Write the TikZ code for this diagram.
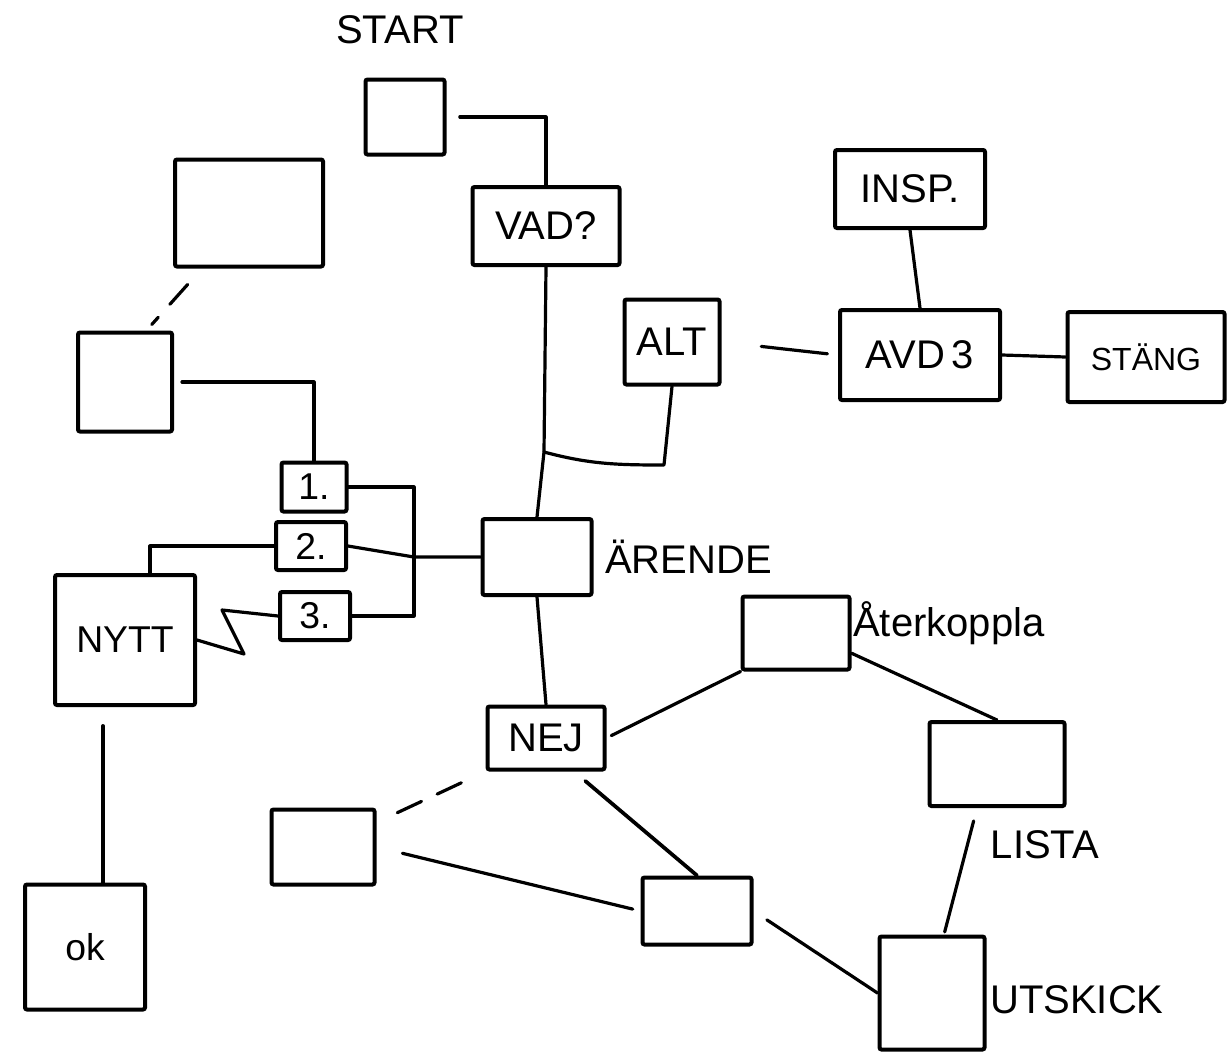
\documentclass[tikz,border=0pt]{standalone}
\usepackage{fontspec}
\setmainfont{Liberation Sans}
\usetikzlibrary{calc}
\begin{document}
\begin{tikzpicture}[x=0.75pt,y=-0.75pt,
  box/.style={draw, line width=3pt, inner sep=0pt, rounded corners=1.5pt,
    font=\fontsize{30}{32}\selectfont},
  sz/.style 2 args={minimum width=#1*0.75pt, minimum height=#2*0.75pt},
  lbl/.style={inner sep=0pt, font=\fontsize{30}{32}\selectfont},
  conn/.style={line width=2.4pt, line cap=round, line join=round},
  broken/.style={conn, dash pattern=on 20pt off 13pt}]
\useasboundingbox[fill=white] (0,0) rectangle (1232,1053);

% labels
\node[lbl] (tstart) at (400,30) {START};

% boxes
\node[box, sz={79}{75}] (startbox) at (405,117) {};
\node[box, sz={147}{78}] (vad) at (546,226) {VAD?};
\node[box, sz={148}{107}] (big) at (249,213) {};
\node[box, sz={94}{99}] (midl) at (125,382) {};
\node[box, sz={65}{49}, font=\fontsize{28}{30}\selectfont] (one) at (314,487) {1.};
\node[box, sz={70}{48}, font=\fontsize{28}{30}\selectfont] (two) at (311,546) {2.};
\node[box, sz={70}{48}, font=\fontsize{28}{30}\selectfont] (three) at (315,616) {3.};
\node[box, sz={140}{130}, font=\fontsize{28}{30}\selectfont] (nytt) at (125,640) {NYTT};
\node[box, sz={120}{125}, font=\fontsize{28}{30}\selectfont] (ok) at (85,947) {ok};
\node[box, sz={109}{76}] (arende) at (537,557) {};
\node[box, sz={95}{85}] (alt) at (672,342) {ALT};
\node[box, sz={160}{90}] (avd) at (920,355) {AVD\,3};
\node[box, sz={150}{78}] (insp) at (910,189) {INSP.};
\node[box, sz={157}{90}, font=\fontsize{24}{26}\selectfont] (stang) at (1146,357) {STÄNG};
\node[box, sz={117}{63}] (nej) at (546,738) {NEJ};
\node[box, sz={107}{73}] (aterk) at (796,633) {};
\node[box, sz={135}{84}] (lista) at (997,764) {};
\node[box, sz={105}{113}] (utskick) at (932,993) {};
\node[box, sz={103}{75}] (bl) at (323,847) {};
\node[box, sz={109}{67}] (bc) at (697,911) {};

% side labels
\node[lbl, anchor=west] (tarende) at (605,557) {ÄRENDE};
\node[lbl, anchor=west] (taterk) at (853,623) {Återkoppla};
\node[lbl] (tlista) at (1045,845) {LISTA};
\node[lbl, anchor=west] (tutskick) at (990,1000) {UTSKICK};

% helper coordinates
\coordinate (br) at (544,452);
\coordinate (altc) at (664,465);
\coordinate (fork) at (414,557);

% connectors
\draw[conn, shorten <=10pt] (startbox.east) -| (vad.north);
\draw[conn] (vad.south) -- (br) -- (arende.north);
\draw[conn] (br) to[out=-15,in=180] (altc) -- (alt.south);
\draw[broken, shorten <=6pt, shorten >=2pt] ($(big.south west)+(20,10)$) -- ($(midl.north east)+(-24,-4)$);
\draw[conn, shorten <=6pt] (midl.east) -| (one.north);
\draw[conn] (one.east) -| (fork) |- (three.east);
\draw[conn] (two.east) -- (fork) -- (arende.west);
\draw[conn] (two.west) -| ($(nytt.north)+(25,0)$);
\draw[conn] (three.west) -- ++(-56,-6) -- ++(22,44) -- (nytt.east);
\draw[conn, shorten <=14pt] ($(nytt.south)+(-22,0)$) -- ($(ok.north)+(18,0)$);
\draw[conn, shorten <=30pt, shorten >=8pt] (alt.east) -- (avd.west);
\draw[conn] (insp.south) -- (avd.north);
\draw[conn] (avd.east) -- (stang.west);
\draw[conn] (arende.south) -- (nej.north);
\draw[conn, shorten <=4pt] (nej.east) -- (aterk.south west);
\draw[conn] (aterk.-20) -- (lista.north);
\draw[conn, shorten <=10pt, shorten >=2pt] ($(lista.south)+(-20,0)$) -- ($(utskick.north)+(12,0)$);
\draw[broken, shorten <=20pt, shorten >=4pt] (nej.south west) -- ($(bl.north east)+(2,14)$);
\draw[conn, shorten <=20pt, shorten >=6pt] (bl.east) -- (bc.west);
\draw[conn, line width=2.8pt, shorten >=11pt] (bc.north) -- (nej.-50);
\draw[conn, shorten <=12pt] (bc.east) -- (utskick.west);
\end{tikzpicture}
\end{document}
